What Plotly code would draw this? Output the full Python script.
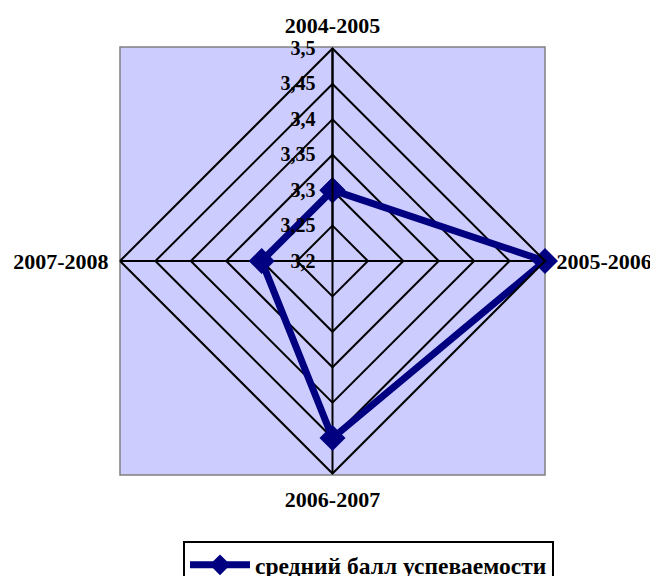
import plotly.graph_objects as go

categories = ["2004-2005", "2005-2006", "2006-2007", "2007-2008"]
values = [3.3, 3.5, 3.45, 3.3]
series_name = "средний балл успеваемости"
title_text = "Показатели качества управления предприятием"

# the page body has an 8px margin, so the figure is 8px smaller than the window
OFF = 8
W, H = 658 - OFF, 576 - OFF
px0, px1, py0, py1 = 120 - OFF, 545 - OFF, 47 - OFF, 475 - OFF
font_family = "Liberation Serif, Times New Roman, serif"

fig = go.Figure()
fig.add_trace(go.Scatterpolar(
    r=values + values[:1],
    theta=categories + categories[:1],
    mode="lines+markers",
    name=series_name,
    line=dict(color="#000080", width=7),
    marker=dict(symbol="diamond", size=20, color="#000080"),
))

fig.update_layout(
    width=W, height=H,
    margin=dict(l=0, r=0, t=0, b=0, autoexpand=False),
    paper_bgcolor="white",
    separators=", ",
    font=dict(family=font_family, size=16, color="black"),
    polar=dict(
        domain=dict(x=[px0 / W, px1 / W], y=[1 - py1 / H, 1 - py0 / H]),
        bgcolor="rgba(0,0,0,0)",
        gridshape="linear",
        angularaxis=dict(
            rotation=90, direction="clockwise",
            linecolor="black", linewidth=2,
            gridcolor="black", gridwidth=2,
            showticklabels=True, ticks="outside", ticklen=6,
            tickcolor="rgba(0,0,0,0)",
            tickfont=dict(family=font_family, size=22, color="black", weight="bold"),
        ),
        radialaxis=dict(
            range=[3.2, 3.5], tick0=3.2, dtick=0.05,
            angle=90, side="counterclockwise",
            showline=True, linecolor="black", linewidth=2,
            gridcolor="black", gridwidth=2,
            ticks="outside", ticklen=9, tickcolor="rgba(0,0,0,0)",
            tickangle=90,
            tickfont=dict(family=font_family, size=20, color="black", weight="bold"),
        ),
    ),
    shapes=[dict(
        type="rect", xref="paper", yref="paper",
        x0=px0 / W, x1=px1 / W, y0=1 - py1 / H, y1=1 - py0 / H,
        fillcolor="#CCCCFF", line=dict(color="#808080", width=1.5),
        layer="below",
    )],
    showlegend=True,
    legend=dict(
        x=(183 - OFF) / W, y=1 - (541 - OFF) / H, xanchor="left", yanchor="top",
        bordercolor="black", borderwidth=2, bgcolor="white",
        itemwidth=60,
        font=dict(family=font_family, size=23.5, color="black", weight="bold"),
    ),
    annotations=[dict(
        text=title_text, xref="paper", yref="paper",
        x=45 / W, y=1 - 2.5 / H, xanchor="left", yanchor="bottom",
        showarrow=False,
        font=dict(family=font_family, size=24, color="black", weight="bold"),
    )],
)

fig.write_html("out.html")
